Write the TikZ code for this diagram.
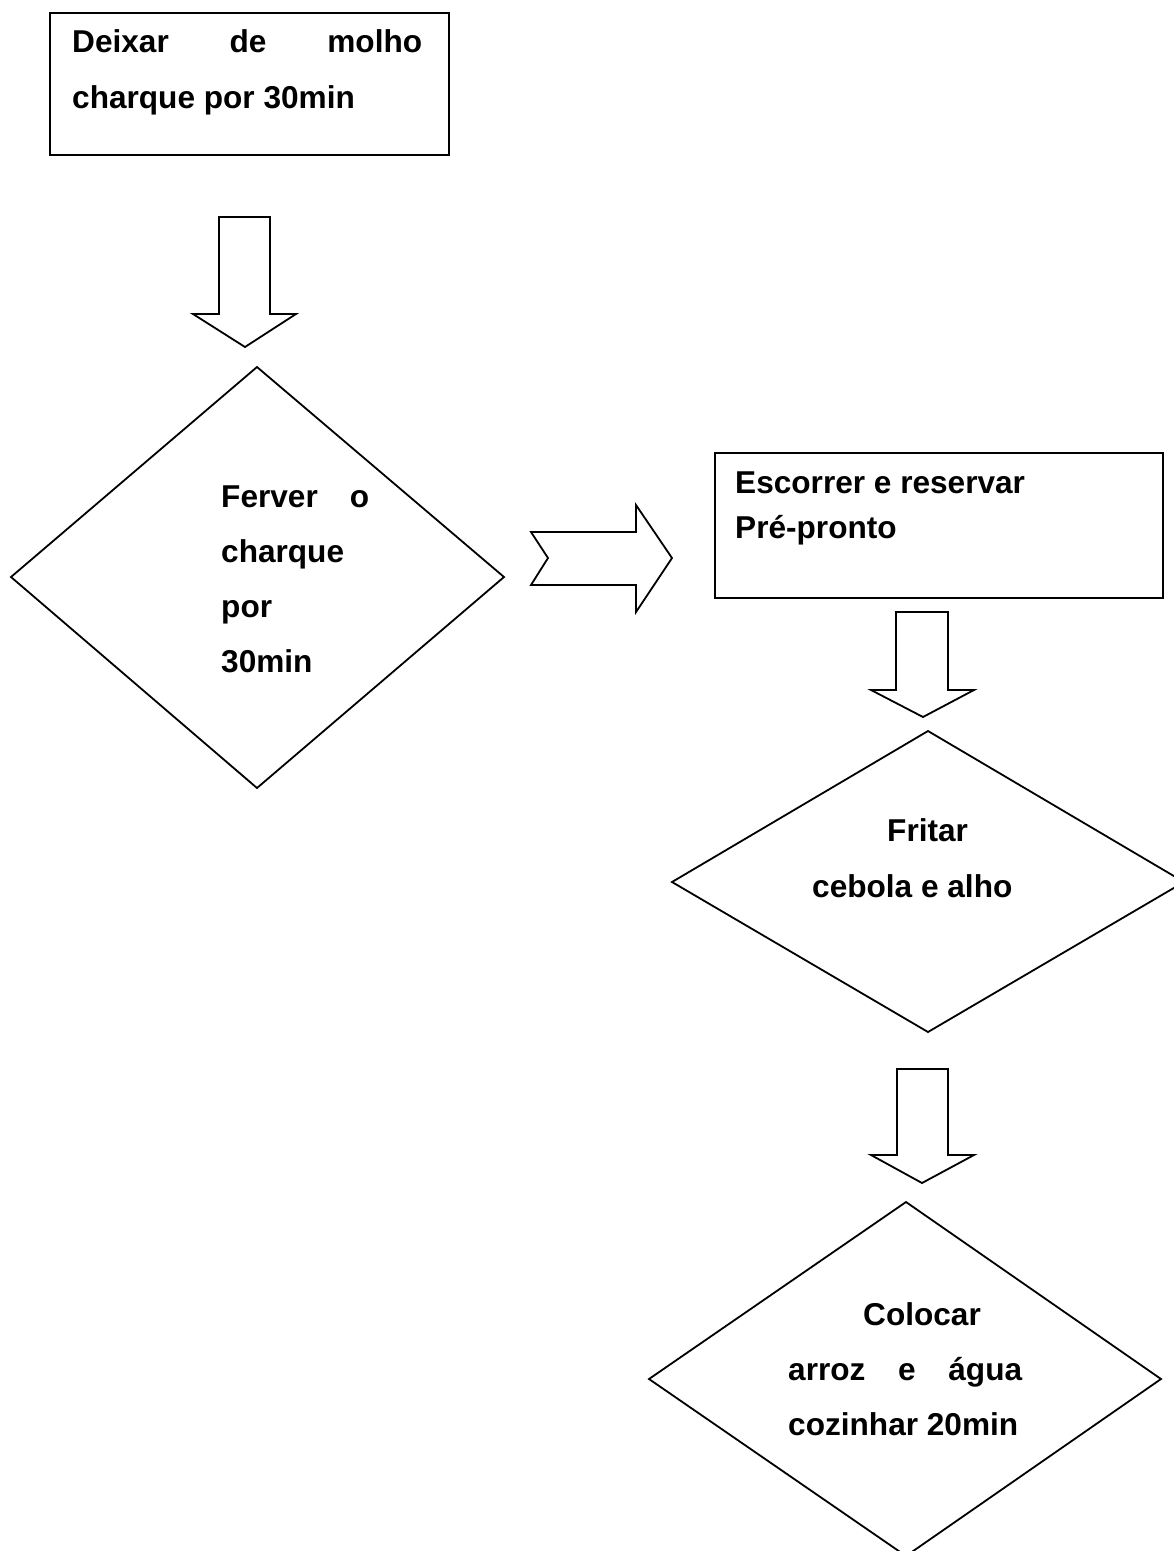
\documentclass[tikz,border=0pt]{standalone}
\usepackage{fontspec}
\setmainfont{Liberation Sans}
\begin{document}
\begin{tikzpicture}[x=1pt,y=-1pt,
  outline/.style={draw=black, line width=1.8pt, line join=miter, fill=white},
  boxshape/.style={outline, anchor=north west, inner sep=0pt},
  lbl/.style={anchor=base west, inner sep=0pt, font=\fontsize{31.6}{40}\bfseries\selectfont}]
\useasboundingbox (0,0) rectangle (1174,1551);

% Box 1
\node[boxshape, minimum width=399pt, minimum height=142pt] (box1) at (49,12) {};
\node[lbl] (t1a) at (72,52) {\hbox to 350pt{Deixar\hfil de\hfil molho}};
\node[lbl] (t1b) at (72,108) {charque por 30min};

% Down arrow 1
\draw[outline] (219,217) coordinate (a1top) -- (270,217) -- (270,314) -- (296,314) -- (245,347) coordinate (a1tip) -- (193,314) -- (219,314) -- cycle;

% Diamond 1
\draw[outline] (257,367) coordinate (d1t) -- (504,577) coordinate (d1r) -- (257,788) coordinate (d1b) -- (11,577) coordinate (d1l) -- cycle;
\node[lbl] (t2a) at (221,507) {\hbox to 148pt{Ferver\hfil o}};
\node[lbl] (t2b) at (221,562) {charque};
\node[lbl] (t2c) at (221,617) {por};
\node[lbl] (t2d) at (221,672) {30min};

% Right arrow
\draw[outline] (531,532) -- (636,532) -- (636,505) -- (672,558) coordinate (a2tip) -- (636,612) -- (636,585) -- (531,585) -- (548,558) -- cycle;

% Box 2
\node[boxshape, minimum width=448pt, minimum height=145pt] (box2) at (714,452) {};
\node[lbl] (t3a) at (735,493) {Escorrer e reservar};
\node[lbl] (t3b) at (735,538) {Pré-pronto};

% Down arrow 2
\draw[outline] (896,612) -- (948,612) -- (948,690) -- (974,690) -- (923,717) coordinate (a3tip) -- (871,690) -- (896,690) -- cycle;

% Diamond 2
\draw[outline] (928,731) coordinate (d2t) -- (1184,882) coordinate (d2r) -- (928,1032) coordinate (d2b) -- (672,882) coordinate (d2l) -- cycle;
\node[lbl] (t4a) at (887,841) {Fritar};
\node[lbl] (t4b) at (812,897) {cebola e alho};

% Down arrow 3
\draw[outline] (897,1069) -- (948,1069) -- (948,1155) -- (974,1155) -- (922,1183) coordinate (a4tip) -- (871,1155) -- (897,1155) -- cycle;

% Diamond 3
\draw[outline] (906,1202) coordinate (d3t) -- (1161,1379) coordinate (d3r) -- (906,1556) coordinate (d3b) -- (649,1379) coordinate (d3l) -- cycle;
\node[lbl] (t5a) at (863,1325) {Colocar};
\node[lbl] (t5b) at (788,1380) {\hbox to 234pt{arroz\hfil e\hfil água}};
\node[lbl] (t5c) at (788,1435) {cozinhar 20min};
\end{tikzpicture}
\end{document}
